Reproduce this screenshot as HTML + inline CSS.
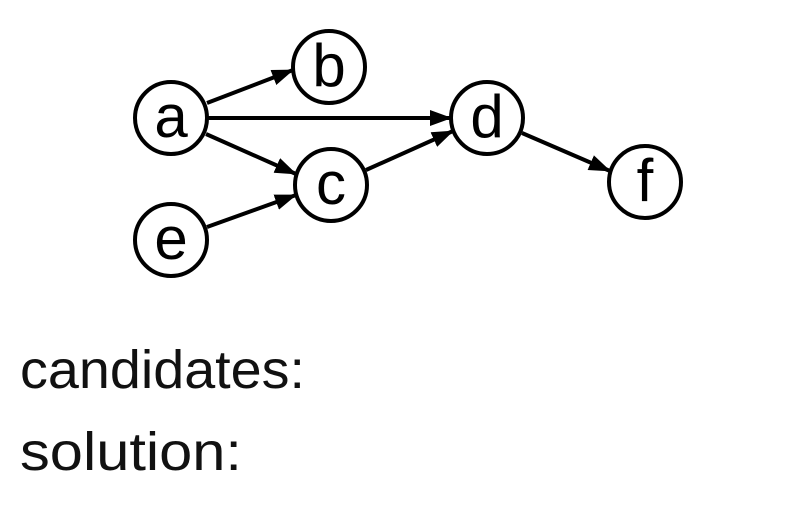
<!DOCTYPE html>
<html><head><style>
html,body{margin:0;padding:0;background:#fff;width:800px;height:517px;overflow:hidden}
svg{position:absolute;left:0;top:0}
</style></head><body>
<svg width="800" height="517" viewBox="0 0 800 517">
<defs><marker id="ar" markerWidth="22" markerHeight="16" refX="21" refY="8" orient="auto" markerUnits="userSpaceOnUse"><path d="M0,0 L22,8 L0,16 Z" fill="#000"/></marker></defs>
<g stroke="#000" stroke-width="4" fill="none">
<circle cx="171" cy="118" r="36"/>
<circle cx="329" cy="67" r="36"/>
<circle cx="487" cy="118" r="36"/>
<circle cx="331" cy="185" r="36"/>
<circle cx="171" cy="240" r="36"/>
<circle cx="645" cy="182" r="36"/>
<line x1="207" y1="103" x2="293" y2="70" marker-end="url(#ar)"/>
<line x1="208" y1="118" x2="451" y2="118" marker-end="url(#ar)"/>
<line x1="206" y1="134" x2="296" y2="174" marker-end="url(#ar)"/>
<line x1="207" y1="227" x2="296" y2="195" marker-end="url(#ar)"/>
<line x1="366" y1="170" x2="453" y2="131" marker-end="url(#ar)"/>
<line x1="522" y1="133" x2="610" y2="171" marker-end="url(#ar)"/>
</g>
<g font-family="Liberation Sans, sans-serif" font-size="60" text-anchor="middle" fill="#000">
<text x="171" y="137">a</text>
<text x="329" y="86">b</text>
<text x="487" y="137">d</text>
<text x="331" y="204">c</text>
<text x="171" y="259">e</text>
<text x="645" y="201">f</text>
</g>
<g font-family="Liberation Sans, sans-serif" font-size="54" fill="#111">
<text x="20" y="388" textLength="285" lengthAdjust="spacingAndGlyphs">candidates:</text>
<text x="20" y="470" textLength="222" lengthAdjust="spacingAndGlyphs">solution:</text>
</g>
</svg>
</body></html>
